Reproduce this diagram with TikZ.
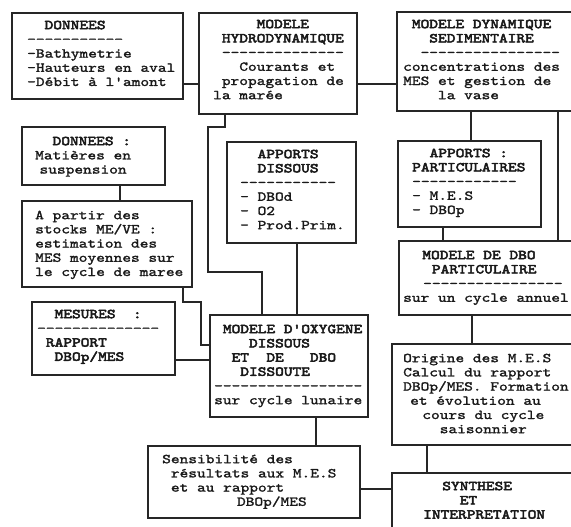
\documentclass[tikz,border=0pt]{standalone}
\usepackage{fontspec}
\setmonofont{lmmono10-regular.otf}[FakeStretch=1.22, UprightFeatures={FakeBold=1.6}, BoldFont=lmmono10-regular.otf, BoldFeatures={FakeBold=3.6}]
\newlength\cw \setlength\cw{8.7pt}
\newcommand\ind[1]{\hspace*{#1\cw}}
\newcommand\st{\rule{0pt}{11pt}}
\tikzset{
 box/.style={draw=black!85, line width=1.3pt, inner sep=0pt, outer sep=0pt, anchor=north west},
 txt/.style={inner sep=0pt, anchor=north west, align=left, text=black!90,
   font=\ttfamily\fontsize{13.6}{14.2}\selectfont},
 wire/.style={draw=black!85, line width=1.3pt},
}
\newcommand\mybox[5]{\node[box,minimum width={(#4-#2)*1pt},minimum height={(#5-#3)*1pt}] (#1) at (#2,#3) {};}
\begin{document}
\lineskiplimit=-20pt\relax
\lineskip=0pt\relax
\begin{tikzpicture}[x=1pt,y=-1pt]
\clip (0,0) rectangle (571,527);
\fill[white] (0,0) rectangle (571,527);
% boxes
\mybox{b1}{12}{13}{183}{99}
\mybox{b2}{199}{13}{357}{114}
\mybox{b3}{397}{12}{578}{111}
\mybox{b4}{22}{127}{165}{185}
\mybox{b5}{22}{201}{192}{287}
\mybox{b6}{32}{302}{175}{375}
\mybox{b7}{227}{142}{356}{243}
\mybox{b8}{398}{141}{541}{227}
\mybox{b9}{399}{241}{578}{315}
\mybox{b10}{392}{344}{578}{445}
\mybox{b11}{148}{446}{360}{518}
\mybox{b12}{392}{473}{578}{540}
\mybox{b13}{210}{315}{368}{417}
% texts
\node[txt] (t1) at (27,18) {\st\ind{2}\textbf{DONNEES}\\{}-----------\\{}-Bathymetrie\\{}-Hauteurs en aval\\{}-Débit à l'amont};
\node[txt] (t2) at (213,17) {\st\ind{5}\textbf{MODELE}\\\ind{1}\textbf{HYDRODYNAMIQUE}\\\ind{1}--------------\\\ind{3}Courants et\\\ind{1}propagation de\\la marée};
\node[txt] (t3) at (403,17) {\st\ind{1}\textbf{MODELE DYNAMIQUE}\\\ind{3}\textbf{SEDIMENTAIRE}\\\ind{2}----------------\\concentrations des\\MES et gestion de\\\ind{4}la vase};
\node[txt] (t4) at (35,134) {\st\ind{2}\textbf{DONNEES :}\\Matières en\\\ind{0.5}suspension};
\node[txt] (t5) at (35,208) {\st A partir des\\stocks ME/VE :\\estimation des\\MES moyennes sur\\le cycle de maree};
\node[txt] (t6) at (37,307) {\st\ind{2}\textbf{MESURES\ind{2}:}\\{}--------------\\\ind{1}\textbf{RAPPORT}\\\ind{2}\textbf{DBOp/MES}};
\node[txt] (t7) at (240,147) {\st\ind{2}\textbf{APPORTS}\\\ind{2}\textbf{DISSOUS}\\{}-----------\\{}- DBOd\\{}- O2\\{}- Prod.Prim.};
\node[txt] (t8) at (412,146) {\st\ind{2}\textbf{APPORTS :}\\\textbf{PARTICULAIRES}\\{}------------\\{}- M.E.S\\{}- DBOp};
\node[txt] (t9) at (403,248) {\st\ind{2.2}\textbf{MODELE DE DBO}\\\ind{3.3}\textbf{PARTICULAIRE}\\\ind{2.3}----------------\\sur un cycle annuel};
\node[txt] (t10) at (403,351) {\st Origine des M.E.S\\Calcul du rapport\\DBOp/MES. Formation\\\ind{0.8}et évolution au\\\ind{2.2}cours du cycle\\\ind{4.2}saisonnier};
\node[txt] (t11) at (162,452) {\st Sensibilité des\\\ind{1}résultats aux M.E.S\\\ind{1}et au rapport\\\ind{8.6}DBOp/MES};
\node[txt] (t12) at (423,479) {\st\ind{2.2}\textbf{SYNTHESE}\\\ind{4.2}\textbf{ET}\\\textbf{INTERPRETATION}};
\node[txt] (t13) at (214,322) {\st\ind{1}\textbf{MODELE D'OXYGENE}\\\ind{4}\textbf{DISSOUS}\\\ind{2}\textbf{ET\ind{2}DE\ind{3}DBO}\\\ind{3}\textbf{DISSOUTE}\\{}-----------------\\sur cycle lunaire};
% connectors
\draw[wire] (b1.east |- 0,84) -- (b2.west |- 0,84);
\draw[wire] (b2.east |- 0,84) -- (b3.west |- 0,84);
\draw[wire] (b2.south -| 225,0) -- (225,127) -- (208,127) -- (208,272) -- (262,272) -- (b13.north -| 262,0);
\draw[wire] (b3.south -| 471,0) -- (b8.north -| 471,0);
\draw[wire] (b3.south -| 558,0) -- (b9.north -| 558,0);
\draw[wire] (b8.south -| 443,0) -- (b9.north -| 443,0);
\draw[wire] (b9.south -| 472,0) -- (b10.north -| 472,0);
\draw[wire] (b10.south -| 427,0) -- (b12.north -| 427,0);
\draw[wire] (b4.south -| 120,0) -- (b5.north -| 120,0);
\draw[wire] (b5.south -| 183,0) -- (183,302) -- (201,302) -- (201,345) -- (b13.west |- 0,345);
\draw[wire] (b6.east |- 0,360) -- (b13.west |- 0,360);
\draw[wire] (b7.south -| 297,0) -- (b13.north -| 297,0);
\draw[wire] (b13.south -| 316,0) -- (b11.north -| 316,0);
\draw[wire] (b11.east |- 0,489) -- (b12.west |- 0,489);
\end{tikzpicture}
\end{document}
